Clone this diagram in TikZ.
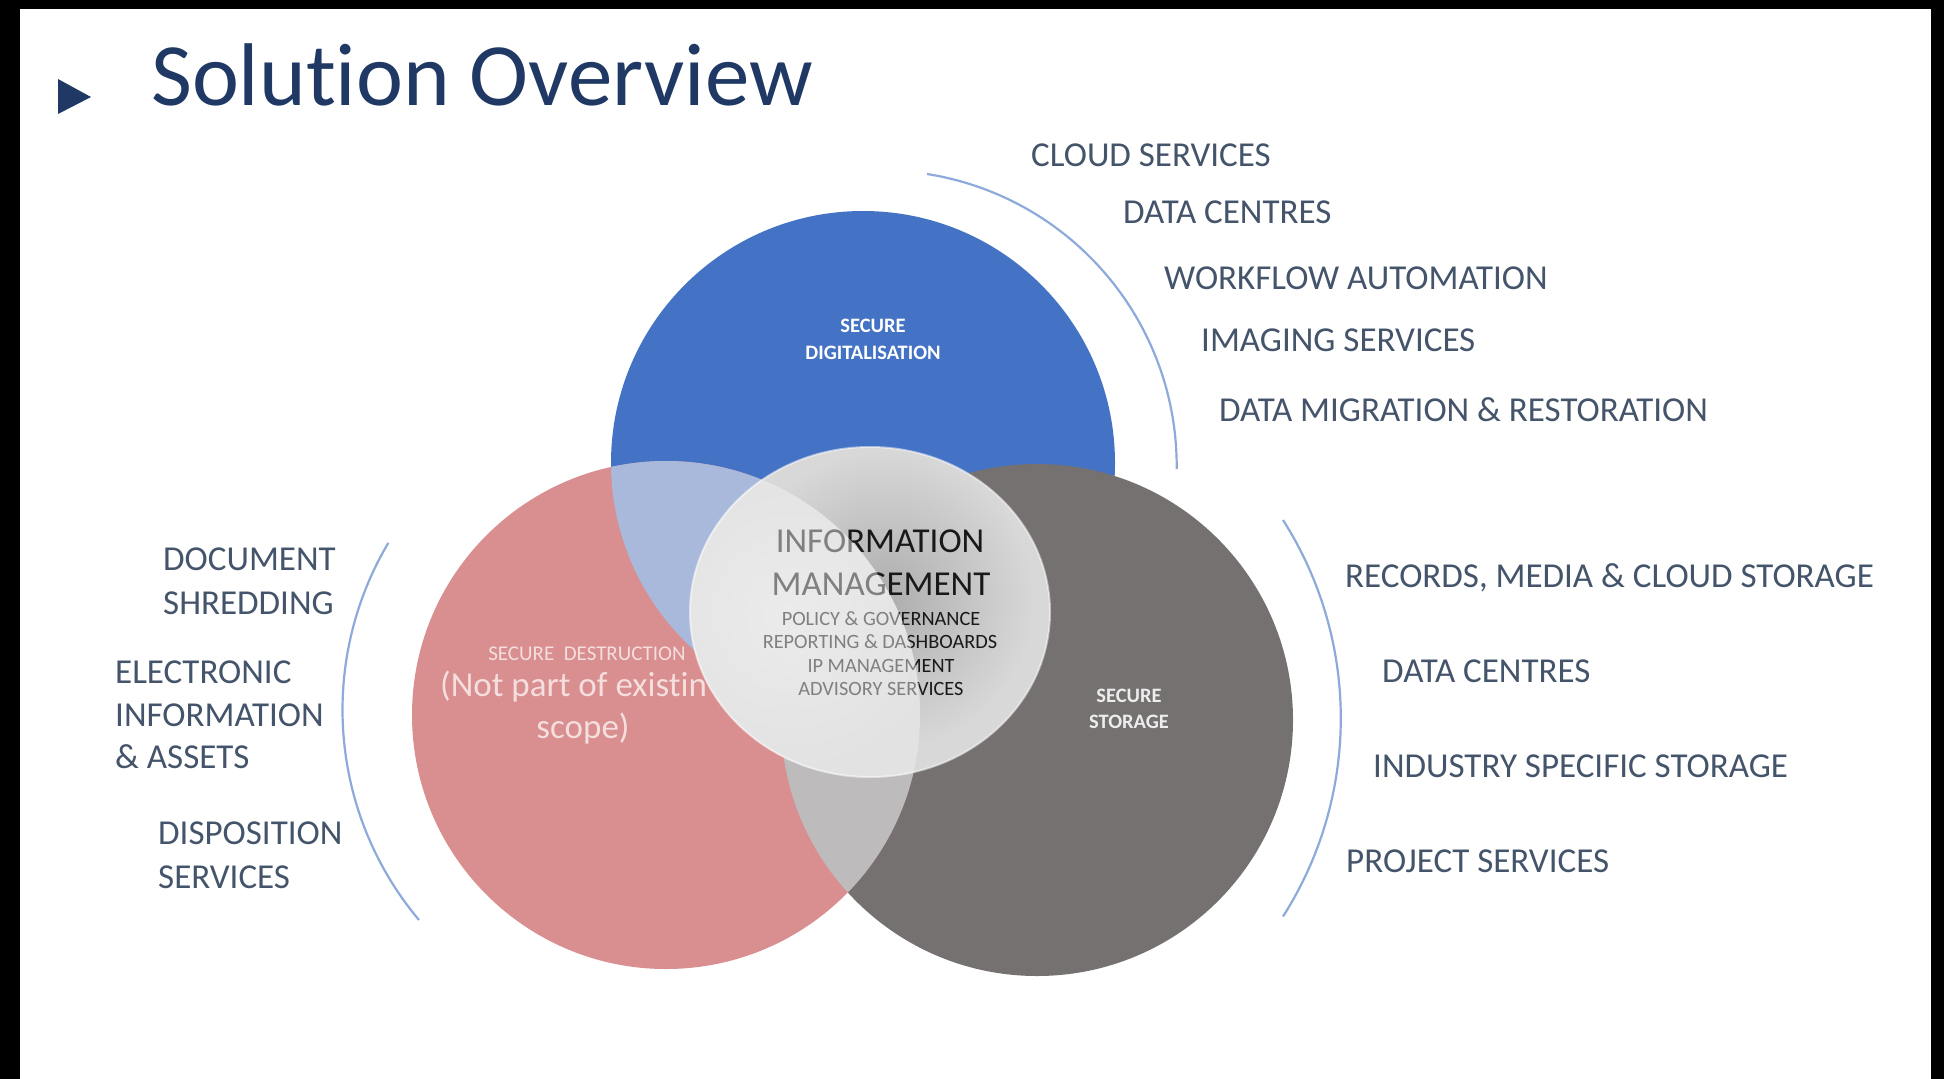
\documentclass[tikz,border=0pt]{standalone}
\usepackage{fontspec}
\setmainfont{Carlito}[Ligatures={NoCommon}]
\definecolor{titlenavy}{HTML}{1F3864}
\definecolor{labelc}{HTML}{44546A}
\definecolor{bluec}{HTML}{4472C4}
\definecolor{pinkc}{HTML}{D98E8F}
\definecolor{grayc}{HTML}{767171}
\definecolor{lensblue}{HTML}{A9B9DB}
\definecolor{lensgray}{HTML}{BDBBBB}
\definecolor{arcc}{HTML}{8EAADB}
\definecolor{imdark}{HTML}{ADADAD}
\definecolor{imlight}{HTML}{D8D8D8}
\definecolor{impale}{HTML}{E2E2E2}
\definecolor{impaler}{HTML}{EBEBEB}
\definecolor{pinktext}{HTML}{F4DEDE}
\newcommand{\imtext}[2]{%
  \node[imbig,text=#1] (iminfo#2) at (880,552) {INFORMATION};
  \node[imbig,text=#1] (immgmt#2) at (881,595) {MANAGEMENT};
  \node[imsmall,text=#1] (impol#2) at (881,625) {POLICY \& GOVERNANCE};
  \node[imsmall,text=#1] (imrep#2) at (880,648) {REPORTING \& DASHBOARDS};
  \node[imsmall,text=#1] (imip#2) at (881,672) {IP MANAGEMENT};
  \node[imsmall,text=#1] (imadv#2) at (881,695) {ADVISORY SERVICES};
}
\begin{document}
\begin{tikzpicture}[x=1pt,y=-1pt,
  lbl/.style={anchor=base west, inner sep=0pt, text=labelc, font=\fontsize{35}{42}\selectfont},
  circlbl/.style={anchor=base, inner sep=0pt, text=white, font=\bfseries\fontsize{20.5}{25}\selectfont},
  imbig/.style={anchor=base, inner sep=0pt, font=\fontsize{35}{42}\selectfont},
  imsmall/.style={anchor=base, inner sep=0pt, font=\fontsize{20.3}{24}\selectfont},
  bracket/.style={draw=arcc, line width=2.2pt}
]
\useasboundingbox (0,0) rectangle (1944,1079);
\fill[black] (0,0) rectangle (1944,1079);
\fill[white] (20,9) rectangle (1931,1079);

% title
\fill[titlenavy] (58,79) -- (91,97) -- (58,114) -- cycle;
\node[anchor=base west, inner sep=0pt, text=titlenavy, font=\fontsize{89}{100}\selectfont] (title) at (151,105) {Solution Overview};

% circles
\coordinate (cb) at (863,463);
\coordinate (cp) at (666,715);
\coordinate (cg) at (1037,720);
\fill[bluec] (cb) circle[radius=252];
\fill[grayc] (cg) circle[radius=256];
\fill[pinkc] (cp) circle[radius=254];
\begin{scope}
  \clip (cp) circle[radius=254];
  \fill[lensblue] (cb) circle[radius=252];
  \fill[lensgray] (cg) circle[radius=256];
\end{scope}

% circle labels
\node[circlbl] (sd1) at (873,332) {SECURE};
\node[circlbl] (sd2) at (873,359) {DIGITALISATION};
\node[circlbl, text=white!93!black] (ss1) at (1129,702) {SECURE};
\node[circlbl, text=white!93!black] (ss2) at (1129,728) {STORAGE};
\node[anchor=base, inner sep=0pt, text=pinktext, font=\fontsize{21}{25}\selectfont] (sx1) at (587,660) {SECURE\ \ DESTRUCTION};
\node[anchor=base west, inner sep=0pt, text=pinktext, font=\fontsize{35}{42}\selectfont] (sx2) at (440,696) {(Not part of existin};
\node[anchor=base, inner sep=0pt, text=pinktext, font=\fontsize{35}{42}\selectfont] (sx3) at (583,738) {scope)};

% information management ellipse
\begin{scope}
  \clip (870,612) ellipse[x radius=180, y radius=165];
  \fill[imlight] (680,440) rectangle (1060,790);
  \shade[inner color=imdark, outer color=imlight] (885,600) circle[radius=150];
  \imtext{black!90}{k}
  \clip (cp) circle[radius=254];
  \fill[impale] (680,440) rectangle (1060,790);
  \shade[inner color=impaler, outer color=impale] (790,612) circle[radius=160];
  \imtext{black!50}{g}
\end{scope}
\draw[white, opacity=0.5, line width=2pt] (870,612) ellipse[x radius=180, y radius=165];

% brackets
\draw[bracket] (927,174) arc[start angle=-81, end angle=0.5, radius=296];
\draw[bracket] (419,920) arc[start angle=140, end angle=210.7, radius=327];
\draw[bracket] (1283,520) arc[start angle=-32.5, end angle=32.5, radius=369];

% top-right labels
\node[lbl] (t1) at (1031,166) {CLOUD SERVICES};
\node[lbl] (t2) at (1123,223) {DATA CENTRES};
\node[lbl] (t3) at (1164,289) {WORKFLOW AUTOMATION};
\node[lbl] (t4) at (1201,351) {IMAGING SERVICES};
\node[lbl] (t5) at (1219,421) {DATA MIGRATION \& RESTORATION};

% right labels
\node[lbl] (r1) at (1345,587) {RECORDS, MEDIA \& CLOUD STORAGE};
\node[lbl] (r2) at (1382,682) {DATA CENTRES};
\node[lbl] (r3) at (1373,777) {INDUSTRY SPECIFIC STORAGE};
\node[lbl] (r4) at (1346,872) {PROJECT SERVICES};

% left labels
\node[lbl] (l1) at (163,570) {DOCUMENT};
\node[lbl] (l2) at (163,614) {SHREDDING};
\node[lbl] (l3) at (115,683) {ELECTRONIC};
\node[lbl] (l4) at (115,726) {INFORMATION};
\node[lbl] (l5) at (115,768) {\& ASSETS};
\node[lbl] (l6) at (158,844) {DISPOSITION};
\node[lbl] (l7) at (158,888) {SERVICES};
\end{tikzpicture}
\end{document}
